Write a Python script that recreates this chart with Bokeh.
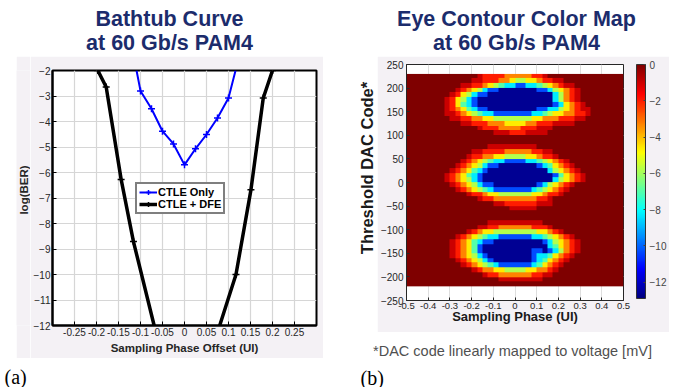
import numpy as np
from bokeh.plotting import figure
from bokeh.models import (Label, Legend, LegendItem, FixedTicker, CustomJSTickFormatter,
                          LinearColorMapper, ColorBar, Spacer)
from bokeh.core.properties import value
from bokeh.layouts import row, column
from bokeh.embed import file_html
from bokeh.resources import INLINE

# ---------------- data: bathtub curve ----------------
ctle_phase = [-0.109, -0.1, -0.075, -0.05, -0.025, 0.0, 0.025, 0.05, 0.075, 0.1, 0.116]
ctle_logber = [-2.0, -2.8, -3.5, -4.38, -4.88, -5.7, -5.07, -4.51, -3.86, -3.08, -2.0]
dfe_left_phase = [-0.197, -0.178, -0.144, -0.116, -0.069]
dfe_left_logber = [-2.0, -2.65, -6.27, -8.71, -12.0]
dfe_right_phase = [0.08, 0.117, 0.151, 0.179, 0.2]
dfe_right_logber = [-12.0, -10.0, -6.68, -3.08, -2.0]
bathtub_xticks = [-0.25, -0.2, -0.15, -0.1, -0.05, 0.0, 0.05, 0.1, 0.15, 0.2, 0.25]
bathtub_yticks = [-12, -11, -10, -9, -8, -7, -6, -5, -4, -3, -2]

# ---------------- data: eye contour map ----------------
# rows from DAC 230 (top) down to -220, columns phase -0.5 .. 0.5 in 40 cells
# digit = contour level
level_value = {"0": 0.0, "1": -1.0, "2": -2.0, "3": -3.3, "4": -4.6,
               "5": -5.8, "6": -7.0, "7": -8.3, "8": -10.3, "9": -12.6}
eye_rows = [
    "0000000000 0001222233 3332210000 0000000000",
    "0000000000 0011222334 5544322110 0000000000",
    "0000000000 1122345677 8877654321 1000000000",
    "0000000001 2345788999 9999887543 2100000000",
    "0000000012 4578899999 9999999753 2100000000",
    "0000000124 5789999999 9999999753 2100000000",
    "0000000124 6789999999 9999999874 3210000000",
    "0000000123 4678899999 9999887754 3211000000",
    "0000000112 3456778888 8887765443 3221000000",
    "0000000011 2233445555 5554433322 2110000000",
    "0000000000 1122233344 4433222111 1000000000",
    "0000000000 0001222333 3222111000 0000000000",
    "0000000000 0000001112 2211110000 0000000000",
    "0000000000 0000000000 0000000000 0000000000",
    "0000000000 0000000000 0000000000 0000000000",
    "0000000000 0000011111 1111000000 0000000000",
    "0000000000 0011222233 3332211000 0000000000",
    "0000000000 0122334455 5544322100 0000000000",
    "0000000000 1234567788 8877654321 0000000000",
    "0000000001 2345788999 9999876432 1000000000",
    "0000000012 3467899999 9999997543 2100000000",
    "0000000123 4678999999 9999999864 3210000000",
    "0000000123 4578999999 9999999754 3210000000",
    "0000000012 3457889999 9999875432 1000000000",
    "0000000001 2345678888 8887654321 0000000000",
    "0000000000 0122344555 5554432210 0000000000",
    "0000000000 0001223333 3333221000 0000000000",
    "0000000000 0000001122 2222111000 0000000000",
    "0000000000 0000000001 1111000000 0000000000",
    "0000000000 0000000000 0000000000 0000000000",
    "0000000000 0000000000 0000000000 0000000000",
    "0000000000 0000011111 1111100000 0000000000",
    "0000000000 0001122333 3332221000 0000000000",
    "0000000000 0123445555 5555443210 0000000000",
    "0000000001 2345677888 8887765432 1000000000",
    "0000000012 3467889999 9999987543 2100000000",
    "0000000012 3468999999 9999997643 2100000000",
    "0000000012 3468999999 9998898753 2100000000",
    "0000000012 3457899999 9998776432 1000000000",
    "0000000001 2345789999 9998764321 0000000000",
    "0000000000 1234567888 8887643210 0000000000",
    "0000000000 0012334455 5544332100 0000000000",
    "0000000000 0000122333 3332211000 0000000000",
    "0000000000 0000000111 1111100000 0000000000",
    "0000000000 0000000000 0000000000 0000000000",
]
eye_phase_min, eye_phase_max = -0.5, 0.5
eye_dac_min, eye_dac_max = -220, 230
eye_xticks = [-0.5, -0.4, -0.3, -0.2, -0.1, 0.0, 0.1, 0.2, 0.3, 0.4, 0.5]
eye_yticks = [-250, -200, -150, -100, -50, 0, 50, 100, 150, 200, 250]
cbar_ticks = [-12, -10, -8, -6, -4, -2, 0]
cbar_low, cbar_high = -12.9, 0.0

# ---------------- styles ----------------
GRAY = "#f4f1f5"
NAVY = "#1c2c6c"
FONT = "Liberation Sans"
TXT = "#262626"


def jet_hex(t):
    r = min(max(1.5 - abs(4 * t - 3), 0), 1)
    g = min(max(1.5 - abs(4 * t - 2), 0), 1)
    b = min(max(1.5 - abs(4 * t - 1), 0), 1)
    return "#%02x%02x%02x" % (int(r * 255), int(g * 255), int(b * 255))


jet = [jet_hex(i / 255) for i in range(256)]

fmt = CustomJSTickFormatter(code="var s = tick.toFixed(2); s = s.replace(/\\.?0+$/, ''); return s;")


def text_fig(w, h, bg="white"):
    f = figure(width=w, height=h, x_range=(0, w), y_range=(0, h), x_axis_type=None,
               y_axis_type=None, toolbar_location=None, output_backend="svg", min_border=0,
               outline_line_color=None, background_fill_color=bg,
               border_fill_color=bg, title=None)
    return f


def add_label(f, x, y, text, size, bold=False, color="black", font=FONT, align="center",
              baseline="middle"):
    f.add_layout(Label(x=x, y=y, x_units="screen", y_units="screen", text=text,
                       text_font=font, text_font_size=size,
                       text_font_style="bold" if bold else "normal",
                       text_color=color, text_align=align, text_baseline=baseline))


def add_vtext(f, x, y, text, size, color):
    # rotated label drawn in the text figure's own pixel coordinates
    f.text(x=[x], y=[y], text=[text], angle=np.pi / 2, text_align="center",
           text_baseline="middle", text_font=value(FONT), text_font_size=size,
           text_font_style="bold", text_color=color)


TITLE_H = 56

# ---------------- left panel ----------------
titleL = text_fig(340, TITLE_H)
add_label(titleL, 169, 38, "Bathtub Curve", "21.5px", True, NAVY)
add_label(titleL, 169, 13.5, "at 60 Gb/s PAM4", "21.5px", True, NAVY)

ylabL = text_fig(14, 302, GRAY)
add_vtext(ylabL, 7.5, 160.5, "log(BER)", "11.5px", TXT)

pL = figure(frame_width=264, frame_height=255, x_range=(-0.3, 0.3), y_range=(-12, -2),
            toolbar_location=None, output_backend="svg", title=None,
            min_border_left=20, min_border_right=7, min_border_top=14, min_border_bottom=33,
            background_fill_color="white", border_fill_color=GRAY,
            outline_line_color="black", outline_line_width=2)
pL.xaxis.ticker = FixedTicker(ticks=bathtub_xticks)
pL.yaxis.ticker = FixedTicker(ticks=bathtub_yticks)
pL.xgrid.ticker = FixedTicker(ticks=bathtub_xticks)
pL.ygrid.ticker = FixedTicker(ticks=bathtub_yticks)
pL.xaxis.formatter = fmt
pL.grid.grid_line_color = "#d6d6d6"
pL.grid.grid_line_width = 1.2
pL.axis.axis_line_color = "black"
pL.axis.axis_line_width = 2
pL.axis.major_tick_in = 4
pL.axis.major_tick_out = 0
pL.axis.major_tick_line_color = "black"
pL.axis.minor_tick_line_color = None
pL.axis.major_label_text_font = FONT
pL.axis.major_label_text_font_size = "10px"
pL.axis.major_label_text_color = TXT
pL.axis.major_label_standoff = 2
pL.xaxis.axis_label = "Sampling Phase Offset (UI)"
pL.xaxis.axis_label_text_font = FONT
pL.xaxis.axis_label_text_font_style = "bold"
pL.xaxis.axis_label_text_font_size = "11.5px"
pL.xaxis.axis_label_text_color = TXT
pL.xaxis.axis_label_standoff = 3

l_ctle = pL.line(ctle_phase, ctle_logber, line_color="#0000ff", line_width=2)
m_ctle = pL.scatter(ctle_phase[1:-1], ctle_logber[1:-1], marker="cross", size=7,
                    line_color="#0000ff", line_width=1.5)
l_dfe1 = pL.line(dfe_left_phase, dfe_left_logber, line_color="black", line_width=3.5)
l_dfe2 = pL.line(dfe_right_phase, dfe_right_logber, line_color="black", line_width=3.5)
m_dfe1 = pL.scatter(dfe_left_phase[:-1], dfe_left_logber[:-1], marker="cross", size=7,
                    line_color="black", line_width=1.5)
m_dfe2 = pL.scatter(dfe_right_phase[1:], dfe_right_logber[1:], marker="cross", size=7,
                    line_color="black", line_width=1.5)
legend = Legend(items=[LegendItem(label="CTLE Only", renderers=[l_ctle, m_ctle]),
                       LegendItem(label="CTLE + DFE", renderers=[l_dfe1, m_dfe1])],
                location=(83, 111), orientation="vertical",
                label_text_font=FONT, label_text_font_style="bold",
                label_text_font_size="11px", label_text_color="black",
                label_height=12, glyph_height=12, glyph_width=18, label_standoff=1,
                spacing=0, padding=2, margin=0,
                border_line_color="black", border_line_width=2,
                background_fill_color="white", background_fill_alpha=1.0)
pL.add_layout(legend)

capL = text_fig(340, 29)
add_label(capL, 4, 11, "(a)", "20px", False, "black", font="Liberation Serif", align="left")

left_col = column(titleL,
                  row(Spacer(width=16, height=302), ylabL, pL, Spacer(width=19, height=302)),
                  capL)

# ---------------- right panel ----------------
titleR = text_fig(338, TITLE_H)
add_label(titleR, 174, 38, "Eye Contour Color Map", "21.5px", True, NAVY)
add_label(titleR, 174, 13.5, "at 60 Gb/s PAM4", "21.5px", True, NAVY)

ylabR = text_fig(35, 276)
add_vtext(ylabR, 24, 155, "Threshold DAC Code*", "16.5px", "#1a1a1a")

pR = figure(frame_width=217, frame_height=236, x_range=(-0.5, 0.5), y_range=(-250, 250),
            toolbar_location=None, output_backend="svg", title=None,
            min_border_left=26, min_border_right=44, min_border_top=8, min_border_bottom=32,
            background_fill_color="white", border_fill_color=GRAY,
            outline_line_color="#262626", outline_line_width=1)
pR.xaxis.ticker = FixedTicker(ticks=eye_xticks)
pR.yaxis.ticker = FixedTicker(ticks=eye_yticks)
pR.xgrid.ticker = FixedTicker(ticks=eye_xticks)
pR.ygrid.ticker = FixedTicker(ticks=eye_yticks)
pR.xaxis.formatter = fmt
pR.grid.grid_line_color = "#dedede"
pR.axis.axis_line_color = "#262626"
pR.axis.major_tick_in = 3
pR.axis.major_tick_out = 0
pR.axis.major_tick_line_color = "#262626"
pR.axis.minor_tick_line_color = None
pR.axis.major_label_text_font = FONT
pR.xaxis.major_label_text_font_size = "9.5px"
pR.yaxis.major_label_text_font_size = "10px"
pR.axis.major_label_text_color = TXT
pR.xaxis.major_label_standoff = 2
pR.yaxis.major_label_standoff = 3
pR.xaxis.axis_label = "Sampling Phase (UI)"
pR.xaxis.axis_label_text_font = FONT
pR.xaxis.axis_label_text_font_style = "bold"
pR.xaxis.axis_label_text_font_size = "13px"
pR.xaxis.axis_label_text_color = "#1a1a1a"
pR.xaxis.axis_label_standoff = -3

Z = np.array([[level_value[c] for c in r.replace(" ", "")] for r in eye_rows])[::-1]
mapper = LinearColorMapper(palette=jet, low=cbar_low, high=cbar_high)
pR.image(image=[Z], x=eye_phase_min, y=eye_dac_min, dw=eye_phase_max - eye_phase_min,
         dh=eye_dac_max - eye_dac_min, color_mapper=mapper)

cbar = ColorBar(color_mapper=mapper, ticker=FixedTicker(ticks=cbar_ticks), width=9,
                height=234, location=(13, 2), padding=0, margin=0,
                major_label_text_font=FONT, major_label_text_font_size="10px",
                major_label_text_color="#444444", label_standoff=4,
                major_tick_in=2, major_tick_out=0, major_tick_line_color="#444444",
                bar_line_color="#333333", bar_line_width=1,
                background_fill_color=None, border_line_color=None)
pR.add_layout(cbar, "right")

capR = text_fig(338, 55)
add_label(capR, 170, 37, "*DAC code linearly mapped to voltage [mV]", "14.5px", False,
          "#505050")
add_label(capR, 18, 10, "(b)", "20px", False, "black", font="Liberation Serif",
          align="left")

right_col = column(titleR,
                   row(ylabR, pR, Spacer(width=16, height=276)),
                   capR)

layout = row(left_col, right_col)
open("out.html", "w").write(file_html(layout, INLINE))
